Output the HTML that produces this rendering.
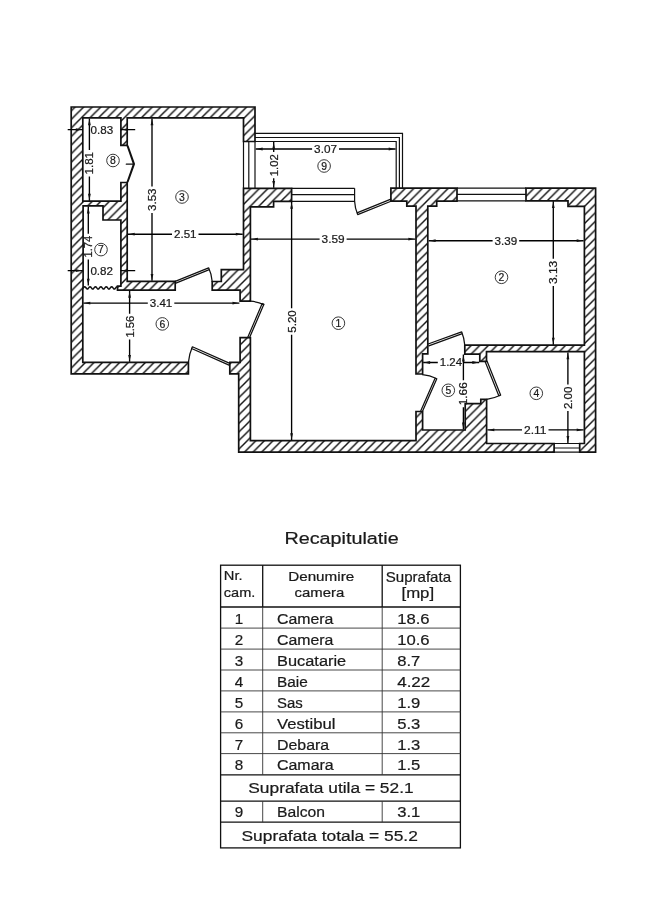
<!DOCTYPE html>
<html><head><meta charset="utf-8"><title>Plan</title>
<style>
html,body{margin:0;padding:0;background:#fff;}
body{width:662px;height:900px;overflow:hidden;font-family:"Liberation Sans",sans-serif;}
svg{display:block;}
text{font-family:"Liberation Sans",sans-serif;fill:#1a1a1a;stroke:#1a1a1a;stroke-width:0.22px;}
.w{fill:url(#h);stroke:#111;stroke-width:1.7;stroke-linejoin:miter;}
.t{fill:none;stroke:#111;stroke-width:1.2;}
.d{fill:none;stroke:#111;stroke-width:1.25;stroke-linecap:round;stroke-linejoin:round;}
.dl{fill:none;stroke:#000;stroke-width:1.35;}
.tk{stroke:#111;stroke-width:1.3;}
.tn{stroke:#333;stroke-width:0.9;}
</style></head><body>
<svg style="filter:grayscale(1)" width="662" height="900" viewBox="0 0 662 900">
<defs>
<pattern id="h" patternUnits="userSpaceOnUse" width="8.575" height="8.575" patternTransform="translate(2.0,0)">
<rect width="8.575" height="8.575" fill="#fff"/>
<path d="M-1,1 L1,-1 M0,8.575 L8.575,0 M7.574999999999999,9.575 L9.575,7.574999999999999" stroke="#111" stroke-width="1.45"/>
</pattern>
</defs>
<rect width="662" height="900" fill="#fff"/>
<g>
<path class="w" d="M188.4,373.8 L71.2,373.8 L71.2,107.0 L255.0,107.0 L255.0,141.5 L243.5,141.5 L243.5,117.8 L127.2,117.8 L127.2,145.3 L120.9,145.3 L120.9,117.8 L82.8,117.8 L82.8,201.2 L120.9,201.2 L120.9,182.5 L127.2,182.5 L127.2,281.3 L175.2,281.3 L175.2,290.1 L117.5,290.1 L117.5,286.2 L120.9,286.2 L120.9,220.0 L103.0,220.0 L103.0,205.8 L83.1,205.8 L83.1,286.8 L82.8,290.1 L82.8,362.3 L188.4,362.3Z"/>
<path class="w" d="M212.2,281.5 L221.3,281.5 L221.3,269.6 L243.5,269.6 L243.5,188.3 L291.6,188.3 L291.6,201.3 L273.6,201.3 L273.6,206.8 L250.4,206.8 L250.4,301.2 L240.1,301.2 L240.1,290.1 L212.2,290.1Z"/>
<path class="w" d="M240.1,337.6 L250.4,337.6 L250.4,440.7 L416.0,440.7 L416.0,411.5 L422.6,411.5 L422.6,430.0 L465.2,430.0 L465.2,403.7 L480.8,403.7 L480.8,399.4 L486.6,399.4 L486.6,443.5 L554.1,443.5 L554.1,452.2 L238.7,452.2 L238.7,373.8 L229.8,373.8 L229.8,362.4 L240.1,362.4Z"/>
<path class="w" d="M390.9,188.2 L457.0,188.2 L457.0,201.2 L436.7,201.2 L436.7,206.2 L427.8,206.2 L427.8,353.8 L422.6,353.8 L422.6,374.0 L416.0,374.0 L416.0,206.2 L406.8,206.2 L406.8,201.2 L390.9,201.2Z"/>
<path class="w" d="M526.0,188.2 L595.6,188.2 L595.6,452.2 L579.7,452.2 L579.7,443.5 L584.4,443.5 L584.4,351.7 L486.5,351.7 L486.5,361.3 L479.8,361.3 L479.8,354.1 L464.8,354.1 L464.8,345.1 L584.4,345.1 L584.4,206.4 L568.0,206.4 L568.0,200.8 L526.0,200.8Z"/>
</g>
<path class="t" d="M255.0,133.4 L402.5,133.4 L402.5,188.1 M255.0,137.5 L399.4,137.5 L399.4,188.1 M255.0,141.5 L396.2,141.5 L396.2,188.1 M243.5,141.5 L243.5,188.3 M248.8,141.5 L248.8,188.3 M255.0,141.5 L255.0,188.3 M291.6,188.3 L354.6,188.3 M291.6,194.6 L354.6,194.6 M291.6,201.3 L354.6,201.3 M354.6,188.3 L354.6,201.3 M457.0,188.2 L526.0,188.2 M457.0,194.4 L526.0,194.4 M457.0,200.8 L526.0,200.8 M554.1,443.5 L579.7,443.5 M554.1,448.0 L579.7,448.0 M554.1,452.2 L579.7,452.2"/>
<path class="d" d="M127.0,145.4 L133.5,164.0 L127.0,182.4 M126.3,164.2 L133.5,164.2 M128.0,146.0 L134.4,164.0 L128.0,181.8 M175.2,281.3 L208.6,267.8 L209.3,269.6 L175.9,283.1 M208.6,267.8 Q211.6,274 212.2,281.5 M249.6,337.6 L263.9,304.2 L262.2,303.5 L247.9,336.9 M250.4,301.2 Q258,301.6 263.9,304.6 M229.8,363.4 L192.4,346.8 L191.6,348.5 L229.0,365.1 M192.4,346.8 Q189.2,354 188.4,362.3 M390.9,199.2 L357.0,212.8 L357.7,214.6 L391.6,201.0 M354.6,201.3 Q355.0,208 357.4,213.8 M428.1,344.0 L461.6,331.8 L462.3,333.6 L428.8,345.8 M461.6,331.8 Q464.2,338 464.8,345.2 M420.8,410.8 L435.2,378.0 L436.8,378.7 L422.4,411.5 M422.5,374.6 Q430,375.2 435.8,378.2 M485.2,361.8 L498.8,395.8 L500.6,395.1 L487.0,361.1 M500.4,395.2 Q494,398.2 486.8,399.4"/>
<path class="d" style="stroke-width:1.5" d="M83.3,287.9 L83.8,287.3 L84.2,286.9 L84.7,286.8 L85.1,286.9 L85.6,287.3 L86.0,287.9 L86.5,288.4 L86.9,288.9 L87.4,289.0 L87.8,288.9 L88.3,288.4 L88.7,287.9 L89.2,287.3 L89.6,286.9 L90.1,286.8 L90.5,286.9 L91.0,287.4 L91.4,287.9 L91.9,288.5 L92.3,288.9 L92.8,289.0 L93.2,288.9 L93.7,288.4 L94.1,287.9 L94.6,287.3 L95.0,286.9 L95.5,286.8 L95.9,286.9 L96.4,287.4 L96.8,287.9 L97.3,288.5 L97.7,288.9 L98.2,289.0 L98.6,288.9 L99.1,288.4 L99.5,287.9 L100.0,287.3 L100.4,286.9 L100.9,286.8 L101.3,286.9 L101.8,287.4 L102.2,287.9 L102.7,288.5 L103.1,288.9 L103.6,289.0 L104.0,288.9 L104.5,288.4 L104.9,287.9 L105.4,287.3 L105.8,286.9 L106.3,286.8 L106.7,286.9 L107.2,287.4 L107.6,287.9 L108.1,288.5 L108.5,288.9 L109.0,289.0 L109.4,288.9 L109.9,288.4 L110.3,287.9 L110.8,287.3 L111.2,286.9 L111.7,286.8 L112.1,286.9 L112.6,287.4 L113.0,287.9 L113.5,288.5 L113.9,288.9 L114.4,289.0 L114.8,288.9 L115.3,288.4 L115.7,287.9 L116.2,287.3 L116.6,286.9 L117.1,286.8 L117.5,286.9"/>
<g>
<path d="M67.7,129.6 L82.7,129.6 M120.7,129.6 L135.2,129.6" class="dl"/>
<path d="M82.00,129.60 L75.80,131.00 L75.80,128.20Z" fill="#111"/>
<path d="M121.40,129.60 L127.60,128.20 L127.60,131.00Z" fill="#111"/>
<text x="90.6" y="133.5" font-size="10.8" textLength="22.6" lengthAdjust="spacingAndGlyphs">0.83</text>
<path d="M67.7,270.6 L82.7,270.6 M120.7,270.6 L135.2,270.6" class="dl"/>
<path d="M82.00,270.60 L75.80,272.00 L75.80,269.20Z" fill="#111"/>
<path d="M121.40,270.60 L127.60,269.20 L127.60,272.00Z" fill="#111"/>
<text x="90.4" y="274.5" font-size="10.8" textLength="22.6" lengthAdjust="spacingAndGlyphs">0.82</text>
<path d="M89.4,118.4 L89.4,150.0 M89.4,176.5 L89.4,200.7" class="dl"/>
<path d="M89.40,119.10 L90.80,125.30 L88.00,125.30Z" fill="#111"/>
<path d="M89.40,200.00 L88.00,193.80 L90.80,193.80Z" fill="#111"/>
<text transform="translate(93.3,174.5) rotate(-90)" font-size="10.8" textLength="22.5" lengthAdjust="spacingAndGlyphs">1.81</text>
<path d="M88.3,206.5 L88.3,233.8 M88.3,259.6 L88.3,285.6" class="dl"/>
<path d="M88.30,207.20 L89.70,213.40 L86.90,213.40Z" fill="#111"/>
<path d="M88.30,284.90 L86.90,278.70 L89.70,278.70Z" fill="#111"/>
<text transform="translate(92.2,257.6) rotate(-90)" font-size="10.8" textLength="21.8" lengthAdjust="spacingAndGlyphs">1.74</text>
<path d="M152.0,118.4 L152.0,186.5 M152.0,213.0 L152.0,280.8" class="dl"/>
<path d="M152.00,119.10 L153.40,125.30 L150.60,125.30Z" fill="#111"/>
<path d="M152.00,280.10 L150.60,273.90 L153.40,273.90Z" fill="#111"/>
<text transform="translate(155.9,211.0) rotate(-90)" font-size="10.8" textLength="22.5" lengthAdjust="spacingAndGlyphs">3.53</text>
<path d="M127.8,234.2 L172.0,234.2 M198.5,234.2 L242.7,234.2" class="dl"/>
<path d="M128.50,234.20 L134.70,232.80 L134.70,235.60Z" fill="#111"/>
<path d="M242.00,234.20 L235.80,235.60 L235.80,232.80Z" fill="#111"/>
<text x="174.0" y="238.1" font-size="10.8" textLength="22.5" lengthAdjust="spacingAndGlyphs">2.51</text>
<path d="M83.4,303.1 L147.8,303.1 M174.3,303.1 L239.4,303.1" class="dl"/>
<path d="M84.10,303.10 L90.30,301.70 L90.30,304.50Z" fill="#111"/>
<path d="M238.70,303.10 L232.50,304.50 L232.50,301.70Z" fill="#111"/>
<text x="149.8" y="307.0" font-size="10.8" textLength="22.5" lengthAdjust="spacingAndGlyphs">3.41</text>
<path d="M129.6,290.8 L129.6,313.7 M129.6,339.6 L129.6,361.8" class="dl"/>
<path d="M129.60,291.50 L131.00,297.70 L128.20,297.70Z" fill="#111"/>
<path d="M129.60,361.10 L128.20,354.90 L131.00,354.90Z" fill="#111"/>
<text transform="translate(133.5,337.6) rotate(-90)" font-size="10.8" textLength="21.9" lengthAdjust="spacingAndGlyphs">1.56</text>
<path d="M255.7,149.0 L312.1,149.0 M339.0,149.0 L395.6,149.0" class="dl"/>
<path d="M256.40,149.00 L262.60,147.60 L262.60,150.40Z" fill="#111"/>
<path d="M394.90,149.00 L388.70,150.40 L388.70,147.60Z" fill="#111"/>
<text x="314.1" y="152.9" font-size="10.8" textLength="22.9" lengthAdjust="spacingAndGlyphs">3.07</text>
<path d="M273.7,142.0 L273.7,152.1 M273.7,178.2 L273.7,187.8" class="dl"/>
<path d="M273.70,142.70 L275.10,148.90 L272.30,148.90Z" fill="#111"/>
<path d="M273.70,187.10 L272.30,180.90 L275.10,180.90Z" fill="#111"/>
<text transform="translate(277.6,176.2) rotate(-90)" font-size="10.8" textLength="22.1" lengthAdjust="spacingAndGlyphs">1.02</text>
<path d="M251.0,239.1 L319.6,239.1 M346.6,239.1 L415.3,239.1" class="dl"/>
<path d="M251.70,239.10 L257.90,237.70 L257.90,240.50Z" fill="#111"/>
<path d="M414.60,239.10 L408.40,240.50 L408.40,237.70Z" fill="#111"/>
<text x="321.6" y="243.0" font-size="10.8" textLength="23.0" lengthAdjust="spacingAndGlyphs">3.59</text>
<path d="M291.6,201.8 L291.6,308.2 M291.6,334.7 L291.6,440.2" class="dl"/>
<path d="M291.60,202.50 L293.00,208.70 L290.20,208.70Z" fill="#111"/>
<path d="M291.60,439.50 L290.20,433.30 L293.00,433.30Z" fill="#111"/>
<text transform="translate(295.5,332.7) rotate(-90)" font-size="10.8" textLength="22.5" lengthAdjust="spacingAndGlyphs">5.20</text>
<path d="M428.7,240.7 L492.6,240.7 M519.2,240.7 L583.6,240.7" class="dl"/>
<path d="M429.40,240.70 L435.60,239.30 L435.60,242.10Z" fill="#111"/>
<path d="M582.90,240.70 L576.70,242.10 L576.70,239.30Z" fill="#111"/>
<text x="494.6" y="244.6" font-size="10.8" textLength="22.6" lengthAdjust="spacingAndGlyphs">3.39</text>
<path d="M553.3,201.2 L553.3,258.8 M553.3,286.1 L553.3,344.7" class="dl"/>
<path d="M553.30,201.90 L554.70,208.10 L551.90,208.10Z" fill="#111"/>
<path d="M553.30,344.00 L551.90,337.80 L554.70,337.80Z" fill="#111"/>
<text transform="translate(557.2,284.1) rotate(-90)" font-size="10.8" textLength="23.3" lengthAdjust="spacingAndGlyphs">3.13</text>
<path d="M423.2,362.5 L437.8,362.5 M464.0,362.5 L479.2,362.5" class="dl"/>
<path d="M423.90,362.50 L430.10,361.10 L430.10,363.90Z" fill="#111"/>
<path d="M478.50,362.50 L472.30,363.90 L472.30,361.10Z" fill="#111"/>
<text x="439.8" y="366.4" font-size="10.8" textLength="22.2" lengthAdjust="spacingAndGlyphs">1.24</text>
<path d="M463.4,354.6 L463.4,380.2 M463.4,407.3 L463.4,429.5" class="dl"/>
<path d="M463.40,355.30 L464.80,361.50 L462.00,361.50Z" fill="#111"/>
<path d="M463.40,428.80 L462.00,422.60 L464.80,422.60Z" fill="#111"/>
<text transform="translate(467.3,405.3) rotate(-90)" font-size="10.8" textLength="23.1" lengthAdjust="spacingAndGlyphs">1.66</text>
<path d="M487.4,429.9 L522.0,429.9 M548.5,429.9 L583.6,429.9" class="dl"/>
<path d="M488.10,429.90 L494.30,428.50 L494.30,431.30Z" fill="#111"/>
<path d="M582.90,429.90 L576.70,431.30 L576.70,428.50Z" fill="#111"/>
<text x="524.0" y="433.8" font-size="10.8" textLength="22.5" lengthAdjust="spacingAndGlyphs">2.11</text>
<path d="M567.9,352.4 L567.9,384.5 M567.9,411.1 L567.9,442.9" class="dl"/>
<path d="M567.90,353.10 L569.30,359.30 L566.50,359.30Z" fill="#111"/>
<path d="M567.90,442.20 L566.50,436.00 L569.30,436.00Z" fill="#111"/>
<text transform="translate(571.8,409.1) rotate(-90)" font-size="10.8" textLength="22.6" lengthAdjust="spacingAndGlyphs">2.00</text>
</g>
<g>
<circle cx="101.0" cy="249.6" r="6.3" fill="none" stroke="#222" stroke-width="0.9"/><text x="101.0" y="253.3" font-size="10.4" text-anchor="middle">7</text>
<circle cx="113.0" cy="160.5" r="6.3" fill="none" stroke="#222" stroke-width="0.9"/><text x="113.0" y="164.2" font-size="10.4" text-anchor="middle">8</text>
<circle cx="182.0" cy="197.0" r="6.3" fill="none" stroke="#222" stroke-width="0.9"/><text x="182.0" y="200.7" font-size="10.4" text-anchor="middle">3</text>
<circle cx="162.3" cy="323.9" r="6.3" fill="none" stroke="#222" stroke-width="0.9"/><text x="162.3" y="327.6" font-size="10.4" text-anchor="middle">6</text>
<circle cx="338.4" cy="323.2" r="6.3" fill="none" stroke="#222" stroke-width="0.9"/><text x="338.4" y="326.9" font-size="10.4" text-anchor="middle">1</text>
<circle cx="324.1" cy="166.0" r="6.3" fill="none" stroke="#222" stroke-width="0.9"/><text x="324.1" y="169.7" font-size="10.4" text-anchor="middle">9</text>
<circle cx="501.5" cy="277.3" r="6.3" fill="none" stroke="#222" stroke-width="0.9"/><text x="501.5" y="281.0" font-size="10.4" text-anchor="middle">2</text>
<circle cx="448.3" cy="390.3" r="6.3" fill="none" stroke="#222" stroke-width="0.9"/><text x="448.3" y="394.0" font-size="10.4" text-anchor="middle">5</text>
<circle cx="536.3" cy="393.3" r="6.3" fill="none" stroke="#222" stroke-width="0.9"/><text x="536.3" y="397.0" font-size="10.4" text-anchor="middle">4</text>
</g>
<g>
<rect x="220.6" y="565.2" width="239.8" height="282.7" fill="none" class="tk"/>
<line x1="220.6" y1="607.0" x2="460.4" y2="607.0" class="tk"/>
<line x1="262.7" y1="565.2" x2="262.7" y2="607.0" class="tk"/>
<line x1="382.2" y1="565.2" x2="382.2" y2="607.0" class="tk"/>
<line x1="220.6" y1="628.1" x2="460.4" y2="628.1" class="tn"/>
<line x1="220.6" y1="649.1" x2="460.4" y2="649.1" class="tn"/>
<line x1="220.6" y1="670.0" x2="460.4" y2="670.0" class="tn"/>
<line x1="220.6" y1="690.9" x2="460.4" y2="690.9" class="tn"/>
<line x1="220.6" y1="711.9" x2="460.4" y2="711.9" class="tn"/>
<line x1="220.6" y1="732.8" x2="460.4" y2="732.8" class="tn"/>
<line x1="220.6" y1="753.6" x2="460.4" y2="753.6" class="tn"/>
<line x1="220.6" y1="774.9" x2="460.4" y2="774.9" class="tk"/>
<line x1="220.6" y1="801.2" x2="460.4" y2="801.2" class="tk"/>
<line x1="220.6" y1="822.1" x2="460.4" y2="822.1" class="tk"/>
<line x1="262.7" y1="607.0" x2="262.7" y2="774.9" class="tn"/>
<line x1="382.2" y1="607.0" x2="382.2" y2="774.9" class="tn"/>
<line x1="262.7" y1="801.2" x2="262.7" y2="822.1" class="tn"/>
<line x1="382.2" y1="801.2" x2="382.2" y2="822.1" class="tn"/>
<text x="284.4" y="543.8" font-size="16.8" textLength="114.3" lengthAdjust="spacingAndGlyphs">Recapitulatie</text>
<text x="223.8" y="580.2" font-size="13.6" textLength="18.8" lengthAdjust="spacingAndGlyphs">Nr.</text>
<text x="223.8" y="596.8" font-size="13.6" textLength="31.5" lengthAdjust="spacingAndGlyphs">cam.</text>
<text x="288.2" y="580.6" font-size="13.6" textLength="66.0" lengthAdjust="spacingAndGlyphs">Denumire</text>
<text x="294.5" y="597.1" font-size="13.6" textLength="49.7" lengthAdjust="spacingAndGlyphs">camera</text>
<text x="385.7" y="581.8" font-size="14.2" textLength="65.4" lengthAdjust="spacingAndGlyphs">Suprafata</text>
<text x="401.5" y="598.0" font-size="14.2" textLength="32.6" lengthAdjust="spacingAndGlyphs">[mp]</text>
<text x="238.9" y="623.8" font-size="15.2" text-anchor="middle">1</text>
<text x="277.0" y="623.8" font-size="15.2" textLength="56.4" lengthAdjust="spacingAndGlyphs">Camera</text>
<text x="397.2" y="623.8" font-size="15.2" textLength="32.4" lengthAdjust="spacingAndGlyphs">18.6</text>
<text x="238.9" y="644.9" font-size="15.2" text-anchor="middle">2</text>
<text x="277.0" y="644.9" font-size="15.2" textLength="56.4" lengthAdjust="spacingAndGlyphs">Camera</text>
<text x="397.2" y="644.9" font-size="15.2" textLength="32.4" lengthAdjust="spacingAndGlyphs">10.6</text>
<text x="238.9" y="665.9" font-size="15.2" text-anchor="middle">3</text>
<text x="277.0" y="665.9" font-size="15.2" textLength="69.2" lengthAdjust="spacingAndGlyphs">Bucatarie</text>
<text x="397.2" y="665.9" font-size="15.2" textLength="23.1" lengthAdjust="spacingAndGlyphs">8.7</text>
<text x="238.9" y="686.8" font-size="15.2" text-anchor="middle">4</text>
<text x="277.0" y="686.8" font-size="15.2" textLength="30.8" lengthAdjust="spacingAndGlyphs">Baie</text>
<text x="397.2" y="686.8" font-size="15.2" textLength="33.1" lengthAdjust="spacingAndGlyphs">4.22</text>
<text x="238.9" y="707.7" font-size="15.2" text-anchor="middle">5</text>
<text x="277.0" y="707.7" font-size="15.2" textLength="25.8" lengthAdjust="spacingAndGlyphs">Sas</text>
<text x="397.2" y="707.7" font-size="15.2" textLength="23.1" lengthAdjust="spacingAndGlyphs">1.9</text>
<text x="238.9" y="728.7" font-size="15.2" text-anchor="middle">6</text>
<text x="277.0" y="728.7" font-size="15.2" textLength="58.4" lengthAdjust="spacingAndGlyphs">Vestibul</text>
<text x="397.2" y="728.7" font-size="15.2" textLength="23.1" lengthAdjust="spacingAndGlyphs">5.3</text>
<text x="238.9" y="749.6" font-size="15.2" text-anchor="middle">7</text>
<text x="277.0" y="749.6" font-size="15.2" textLength="52.2" lengthAdjust="spacingAndGlyphs">Debara</text>
<text x="397.2" y="749.6" font-size="15.2" textLength="23.1" lengthAdjust="spacingAndGlyphs">1.3</text>
<text x="238.9" y="770.4" font-size="15.2" text-anchor="middle">8</text>
<text x="277.0" y="770.4" font-size="15.2" textLength="56.7" lengthAdjust="spacingAndGlyphs">Camara</text>
<text x="397.2" y="770.4" font-size="15.2" textLength="23.1" lengthAdjust="spacingAndGlyphs">1.5</text>
<text x="248.3" y="793.3" font-size="15.2" textLength="165.3" lengthAdjust="spacingAndGlyphs">Suprafata utila = 52.1</text>
<text x="238.9" y="817.2" font-size="15.2" text-anchor="middle">9</text>
<text x="277.0" y="817.2" font-size="15.2" textLength="48.0" lengthAdjust="spacingAndGlyphs">Balcon</text>
<text x="397.2" y="817.2" font-size="15.2" textLength="23.1" lengthAdjust="spacingAndGlyphs">3.1</text>
<text x="241.5" y="840.5" font-size="15.2" textLength="176.3" lengthAdjust="spacingAndGlyphs">Suprafata totala = 55.2</text>
</g>
</svg>
</body></html>
